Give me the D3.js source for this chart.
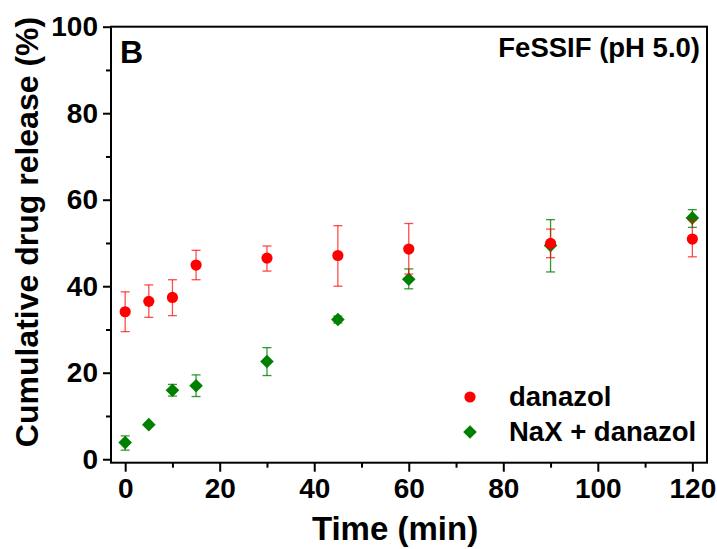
<!DOCTYPE html>
<html>
<head>
<meta charset="utf-8">
<script src="https://cdn.jsdelivr.net/npm/d3@7"></script>
<style>
  body { margin: 0; background: #fff; }
  svg text { font-family: "Liberation Sans", Arial, sans-serif; font-weight: bold; }
</style>
</head>
<body>
<svg id="chart" width="717" height="549"></svg>
<script>
// time points (min)
var times = [0, 5, 10, 15, 30, 45, 60, 90, 120];

// danazol
var danazolMean = [34.1, 36.5, 37.4, 44.9, 46.5, 47.1, 48.6, 49.9, 50.9];
var danazolLow  = [29.5, 32.8, 33.2, 41.5, 43.5, 40.0, 42.8, 46.6, 46.8];
var danazolHigh = [38.7, 40.3, 41.5, 48.3, 49.3, 54.0, 54.5, 53.2, 55.3];

// NaX + danazol
var naxMean = [3.85, 8.0, 15.95, 17.0, 22.6, 32.3, 41.6, 49.4, 55.8];
var naxLow  = [2.1, 7.6, 14.6, 14.5, 19.35, 31.5, 39.4, 43.3, 53.6];
var naxHigh = [5.4, 8.4, 17.3, 19.5, 25.8, 33.1, 44.0, 55.4, 57.7];

var xTicks = [0, 20, 40, 60, 80, 100, 120];
var xMinor = [10, 30, 50, 70, 90, 110];
var yTicks = [0, 20, 40, 60, 80, 100];
var yMinor = [10, 30, 50, 70, 90];

var svg = d3.select('#chart');
var pLeft = 111, pRight = 707, pTop = 26.7, pBottom = 462.7;

var x = d3.scaleLinear().domain([-3, 123.1]).range([pLeft, pRight]);
var y = d3.scaleLinear().domain([-0.8, 100]).range([pBottom, pTop]);

// axes
var gx = svg.append('g').attr('transform', 'translate(0,' + pBottom + ')')
  .call(d3.axisBottom(x).tickValues(xTicks).tickSize(9).tickPadding(6));
var gxm = svg.append('g').attr('transform', 'translate(0,' + pBottom + ')')
  .call(d3.axisBottom(x).tickValues(xMinor).tickSize(5).tickFormat(''));
var gy = svg.append('g').attr('transform', 'translate(' + pLeft + ',0)')
  .call(d3.axisLeft(y).tickValues(yTicks).tickSize(8).tickPadding(5));
var gym = svg.append('g').attr('transform', 'translate(' + pLeft + ',0)')
  .call(d3.axisLeft(y).tickValues(yMinor).tickSize(5).tickFormat(''));

[gx, gxm, gy, gym].forEach(function (g) {
  g.select('.domain').remove();
  g.selectAll('line').attr('stroke', '#000').attr('stroke-width', 2);
  g.selectAll('text').attr('fill', '#000').style('font-size', '28px');
});

// frame
svg.append('rect')
  .attr('x', pLeft).attr('y', pTop)
  .attr('width', pRight - pLeft).attr('height', pBottom - pTop)
  .attr('fill', 'none').attr('stroke', '#000').attr('stroke-width', 2);

// error bars + markers
function series(mean, low, high, color, errColor, shape) {
  var idx = d3.range(times.length);
  var g = svg.append('g');
  var eb = g.selectAll('g.eb').data(idx).enter().append('g')
    .attr('stroke', errColor).attr('stroke-width', 1.3);
  eb.append('line')
    .attr('x1', function (i) { return x(times[i]); })
    .attr('x2', function (i) { return x(times[i]); })
    .attr('y1', function (i) { return y(low[i]); })
    .attr('y2', function (i) { return y(high[i]); });
  eb.append('line')
    .attr('x1', function (i) { return x(times[i]) - 4.5; })
    .attr('x2', function (i) { return x(times[i]) + 4.5; })
    .attr('y1', function (i) { return y(high[i]); })
    .attr('y2', function (i) { return y(high[i]); });
  eb.append('line')
    .attr('x1', function (i) { return x(times[i]) - 4.5; })
    .attr('x2', function (i) { return x(times[i]) + 4.5; })
    .attr('y1', function (i) { return y(low[i]); })
    .attr('y2', function (i) { return y(low[i]); });
  g.selectAll('path.mk').data(idx).enter().append('path')
    .attr('d', shape)
    .attr('transform', function (i) { return 'translate(' + x(times[i]) + ',' + y(mean[i]) + ')'; })
    .attr('fill', color);
}

var circle = d3.symbol().type(d3.symbolCircle).size(Math.PI * 5.6 * 5.6)();
var diamond = 'M0,-6.8L6.8,0L0,6.8L-6.8,0Z';

series(naxMean, naxLow, naxHigh, '#008000', 'rgba(0,128,0,0.8)', diamond);
series(danazolMean, danazolLow, danazolHigh, '#ff0000', 'rgba(255,0,0,0.7)', circle);

// legend
svg.append('path').attr('d', circle).attr('fill', '#ff0000')
  .attr('transform', 'translate(470,397)');
svg.append('text').attr('x', 509).attr('y', 406).style('font-size', '27.5px').text('danazol');
svg.append('path').attr('d', diamond).attr('fill', '#008000')
  .attr('transform', 'translate(470,432)');
svg.append('text').attr('x', 509).attr('y', 441).style('font-size', '27.5px').text('NaX + danazol');

// labels
svg.append('text').attr('x', 120).attr('y', 63).style('font-size', '32px').text('B');
svg.append('text').attr('x', 700).attr('y', 57).attr('text-anchor', 'end')
  .style('font-size', '27.5px').text('FeSSIF (pH 5.0)');

svg.append('text').attr('x', 395).attr('y', 540).attr('text-anchor', 'middle')
  .style('font-size', '33px').text('Time (min)');
svg.append('text').attr('transform', 'translate(38,232) rotate(-90)')
  .attr('text-anchor', 'middle').style('font-size', '32px')
  .text('Cumulative drug release (%)');
</script>
</body>
</html>
